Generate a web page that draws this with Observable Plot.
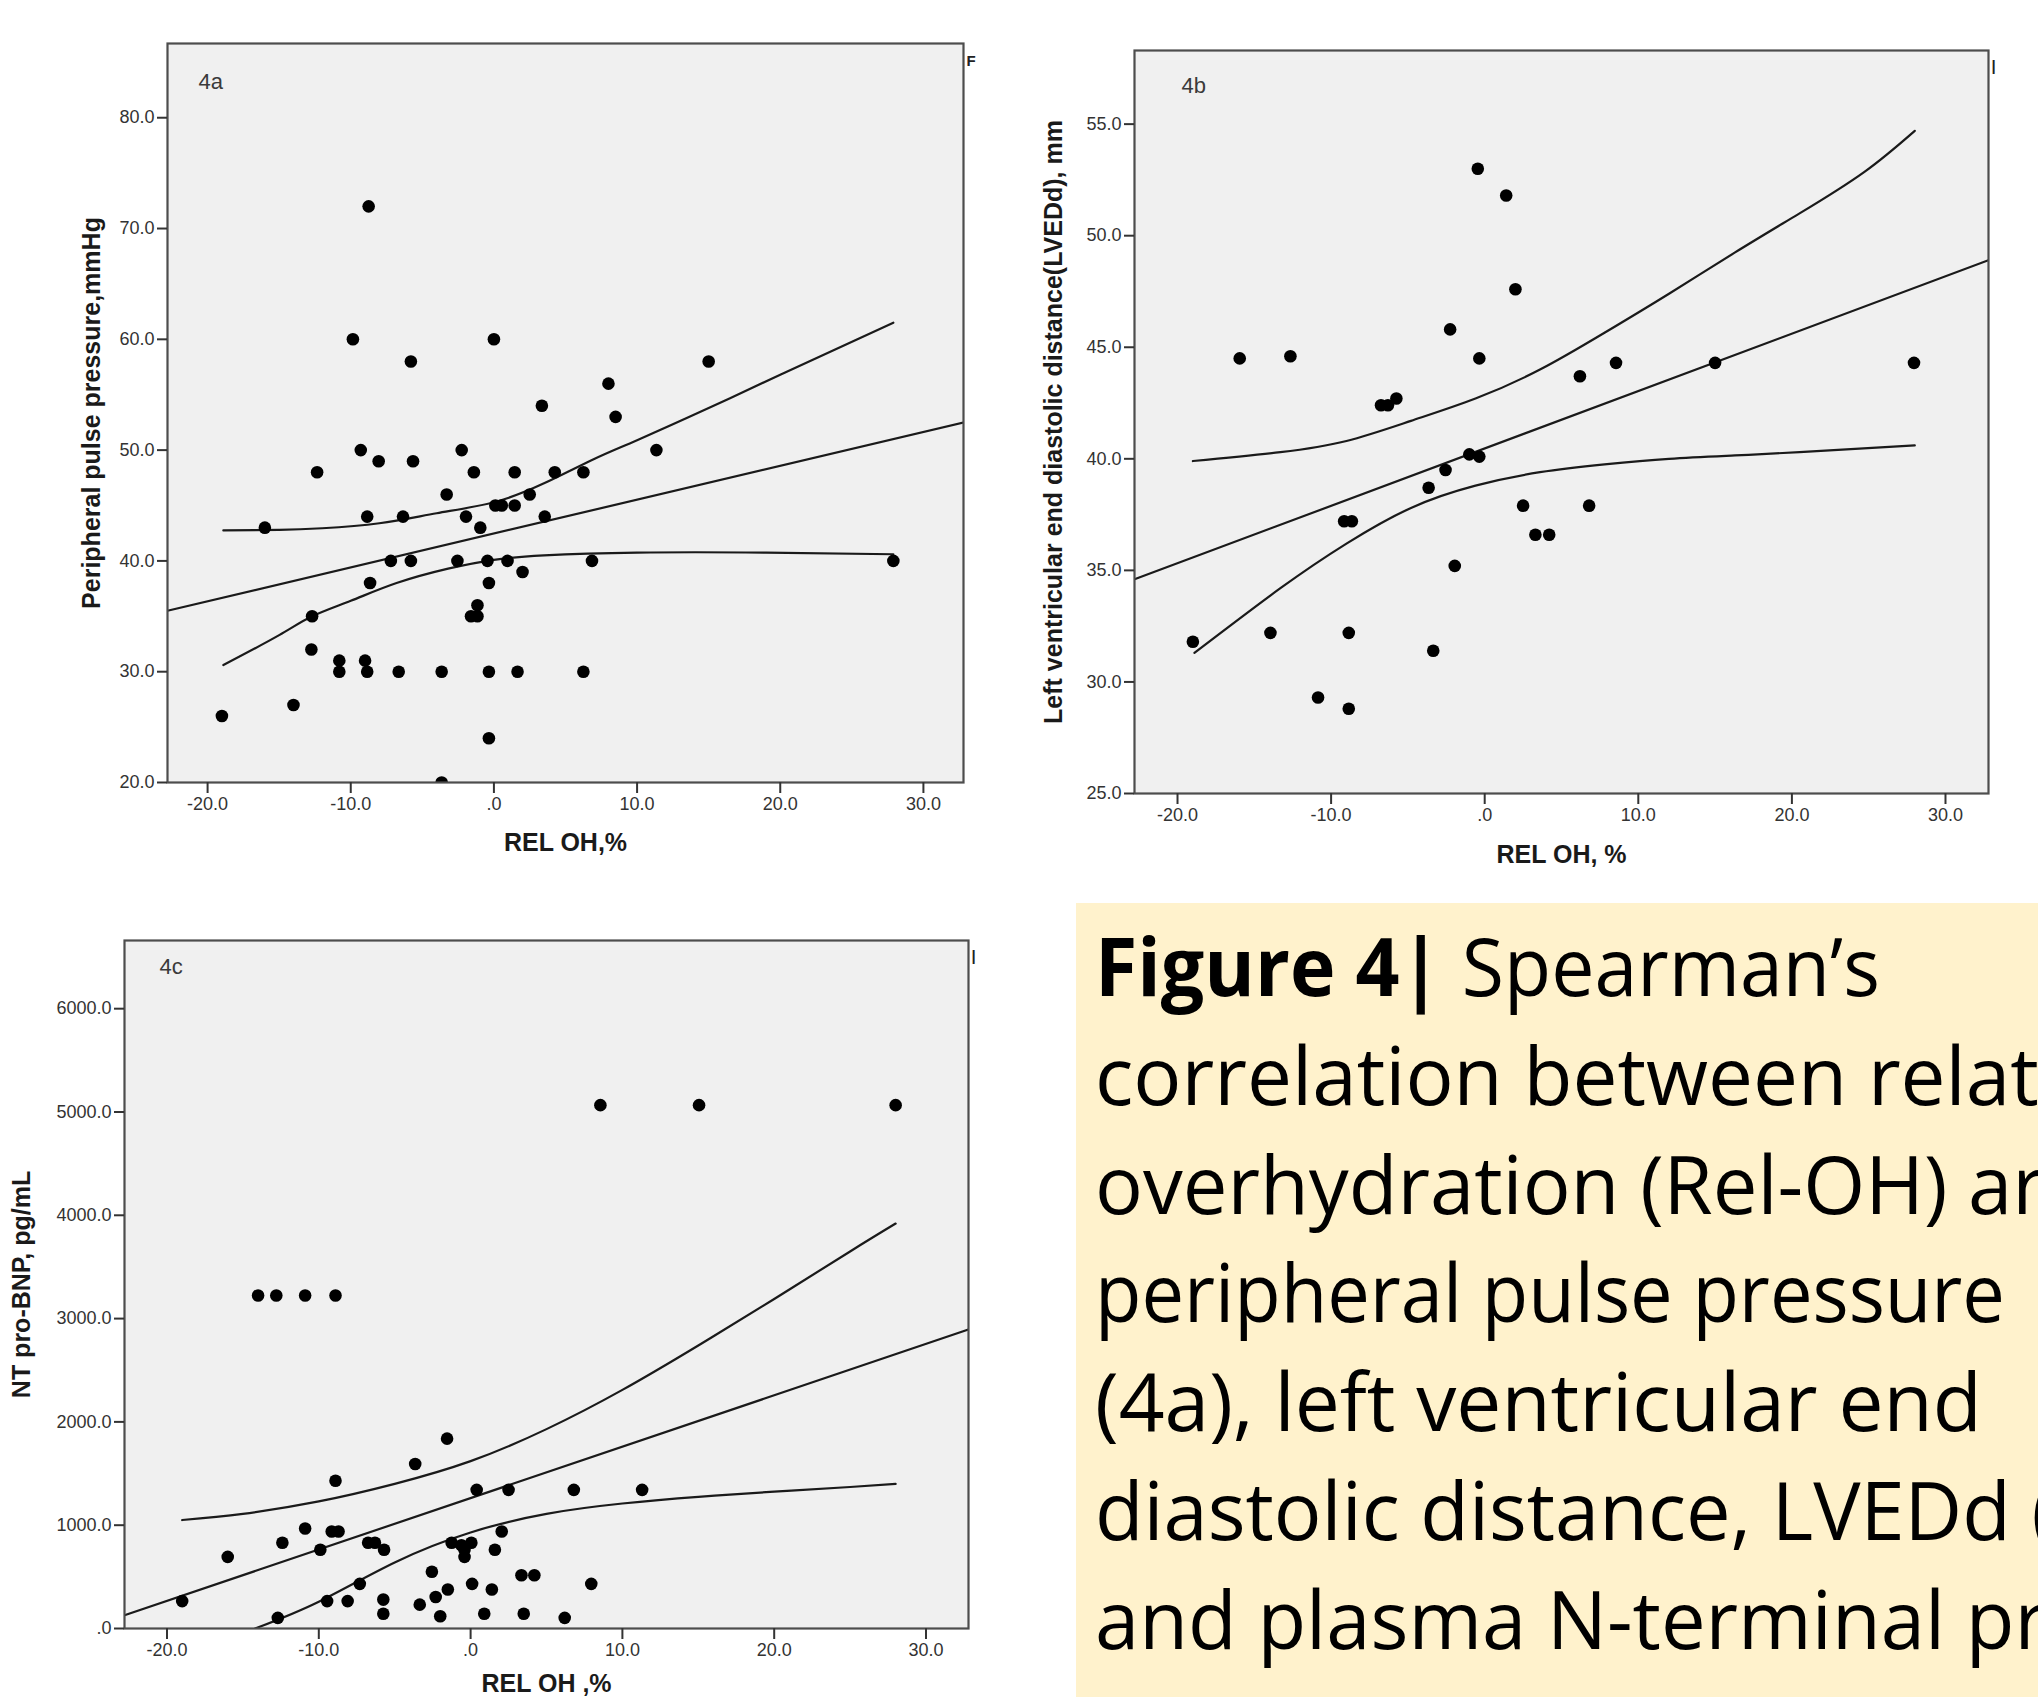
<!DOCTYPE html>
<html>
<head>
<meta charset="utf-8">
<script src="https://cdn.jsdelivr.net/npm/d3@7"></script>
<script src="https://cdn.jsdelivr.net/npm/@observablehq/plot@0.6"></script>
<style>
html, body { margin: 0; padding: 0; background: #ffffff; width: 2038px; height: 1697px; overflow: hidden; }
.panel { position: absolute; }
.panel svg { max-width: none; }
#cap { position: absolute; left: 1076px; top: 903px; width: 962px; height: 794px; overflow: hidden; }
</style>
</head>
<body>
<div id="pa" class="panel" style="left:0px;top:0px"></div>
<div id="pb" class="panel" style="left:1010px;top:0px"></div>
<div id="pc" class="panel" style="left:0px;top:880px"></div>
<div id="cap"></div>
<script>
// ---------- shared axis ----------
const xDomain = [-22.8, 32.8];
const xTicks = [-20, -10, 0, 10, 20, 30];

// ---------- 4a: REL OH vs peripheral pulse pressure ----------
const relOH_a = [-19, -16, -14, -12.7, -12.75, -12.35, -10.8, -10.8, -9.85, -9.3, -8.75, -8.85, -9.0, -8.85, -8.65, -8.05, -7.2, -6.65, -6.35, -5.8, -5.65, -5.8, -3.65, -3.65, -3.3, -2.55, -2.25, -1.95, -1.4, -1.6, -1.15, -1.15, -0.95, -0.45, -0.35, -0.35, -0.35, 0.0, 0.1, 0.55, 0.95, 1.45, 1.45, 1.65, 2.0, 2.5, 3.35, 3.55, 4.25, 6.25, 6.25, 6.85, 8.0, 8.5, 11.35, 15.0, 27.9];
const pulsePressure = [26, 43, 27, 35, 32, 48, 31, 30, 60, 50, 72, 44, 31, 30, 38, 49, 40, 30, 44, 58, 49, 40, 30, 20, 46, 40, 50, 44, 48, 35, 35, 36, 43, 40, 38, 30, 24, 60, 45, 45, 40, 48, 45, 30, 39, 46, 54, 44, 48, 48, 30, 40, 56, 53, 50, 58, 40];
const fitA_x = [-22.8, 32.8];
const fitA_y = [35.5, 52.5];
const upperA_x = [-18.9, -15, -12, -8, -4, 0, 3.5, 7, 10, 15, 20, 27.9];
const upperA_y = [42.75, 42.8, 42.95, 43.4, 44.3, 45.3, 47.0, 49.2, 50.9, 53.8, 56.8, 61.5];
const lowerA_x = [-18.9, -15, -12.7, -10, -6.8, -3.2, 0, 3.5, 10, 19, 27.9];
const lowerA_y = [30.6, 33.3, 35.0, 36.4, 38.0, 39.3, 40.1, 40.5, 40.75, 40.75, 40.6];
const yTicksA = [20, 30, 40, 50, 60, 70, 80];

// ---------- 4b: REL OH vs LVEDd ----------
const relOH_b = [-19.0, -15.95, -12.65, -13.95, -10.85, -9.15, -8.65, -8.85, -8.85, -6.75, -6.3, -5.75, -3.65, -3.35, -2.55, -2.25, -1.95, -1.0, -0.35, -0.45, -0.35, 1.4, 2.0, 2.5, 3.3, 4.2, 6.2, 6.8, 8.55, 15.0, 27.95];
const lvedd = [31.8, 44.5, 44.6, 32.2, 29.3, 37.2, 37.2, 32.2, 28.8, 42.4, 42.4, 42.7, 38.7, 31.4, 39.5, 45.8, 35.2, 40.2, 40.1, 53.0, 44.5, 51.8, 47.6, 37.9, 36.6, 36.6, 43.7, 37.9, 44.3, 44.3, 44.3];
const fitB_x = [-22.8, 32.8];
const fitB_y = [34.6, 48.9];
const upperB_x = [-19, -13.3, -9, -4.8, -0.6, 3.6, 7.8, 12, 16.3, 20.5, 24.7, 28];
const upperB_y = [39.9, 40.3, 40.8, 41.7, 42.7, 44.0, 45.65, 47.4, 49.25, 51.0, 52.85, 54.7];
const lowerB_x = [-18.9, -13.3, -9, -4.8, -0.6, 3.6, 7.8, 12, 16.3, 20.5, 28];
const lowerB_y = [31.3, 34.2, 36.2, 37.8, 38.8, 39.4, 39.75, 40.0, 40.15, 40.3, 40.6];
const yTicksB = [25, 30, 35, 40, 45, 50, 55];

// ---------- 4c: REL OH vs NT pro-BNP ----------
const relOH_c = [-19.0, -16.0, -14.0, -12.8, -10.9, -8.9, -12.7, -12.4, -10.9, -9.9, -9.45, -9.15, -8.7, -8.9, -8.1, -7.3, -6.75, -6.3, -5.7, -5.75, -5.75, -3.65, -3.35, -2.55, -2.3, -2.0, -1.55, -1.5, -1.25, -0.6, -0.4, -0.4, 0.05, 0.1, 0.4, 0.9, 1.4, 1.6, 2.05, 2.5, 3.35, 4.2, 3.5, 6.2, 6.8, 7.95, 8.55, 11.3, 15.05, 28.0];
const ntProBNP = [265, 693, 3224, 3224, 3224, 3224, 103, 830, 968, 762, 265, 939, 939, 1430, 265, 432, 830, 830, 762, 280, 143, 1592, 231, 550, 305, 118, 1838, 378, 830, 806, 693, 762, 830, 432, 1342, 143, 378, 762, 939, 1342, 516, 516, 143, 103, 1342, 432, 5066, 1342, 5066, 5066];
const fitC_x = [-22.8, 32.8];
const fitC_y = [128, 2894];
const upperC_x = [-19, -15, -10, -5, 0, 5, 10, 15, 20, 25, 28];
const upperC_y = [1050, 1110, 1230, 1400, 1620, 1930, 2310, 2740, 3190, 3650, 3920];
const lowerC_x = [-14.2, -10, -5, 0, 5, 10, 15, 20, 25, 28];
const lowerC_y = [0, 260, 640, 930, 1110, 1210, 1275, 1325, 1370, 1400];
const yTicksC = [0, 1000, 2000, 3000, 4000, 5000, 6000];

// ---------- caption (as visible in the figure, cut at the right edge) ----------
const captionBold = "Figure 4|";
const captionLines = [
  "Spearman\u2019s",
  "correlation between relat",
  "overhydration (Rel-OH) ar",
  "peripheral pulse pressure",
  "(4a), left ventricular end",
  "diastolic distance, LVEDd (",
  "and plasma N-terminal pr"
];
// horizontal extent of each caption line, measured on the figure
const captionWidths = [785, 944, 950, 910, 887, 960, 952];

// ---------- drawing ----------
const rows = (X, Y) => X.map((x, i) => ({x, y: Y[i]}));
const fmt = (d) => d === 0 ? ".0" : d.toFixed(1);
const FONT = "'Liberation Sans', Arial, Helvetica, sans-serif";
const INK = "#1a1a1a";

function panel(o) {
  return Plot.plot({
    width: o.width,
    height: o.height,
    marginLeft: o.ml, marginRight: o.mr, marginTop: o.mt, marginBottom: o.mb,
    style: {fontFamily: FONT, background: "transparent", overflow: "visible", maxWidth: "none"},
    x: {domain: xDomain},
    y: {domain: o.yDomain},
    marks: [
      Plot.frame({fill: "#f0f0f0", stroke: null}),
      Plot.line(rows(o.fitX, o.fitY), {x: "x", y: "y", stroke: INK, strokeWidth: 2.2, clip: true}),
      Plot.line(rows(o.upX, o.upY), {x: "x", y: "y", stroke: INK, strokeWidth: 2.2, curve: "natural", clip: true}),
      Plot.line(rows(o.loX, o.loY), {x: "x", y: "y", stroke: INK, strokeWidth: 2.2, curve: "natural", clip: true}),
      Plot.dot(rows(o.xs, o.ys), {x: "x", y: "y", r: 6.3, fill: "#000", stroke: "none", clip: true}),
      Plot.frame({stroke: "#4d4d4d", strokeWidth: 2.2}),
      Plot.axisY({ticks: o.yTicks, tickFormat: fmt, tickSize: 10, tickPadding: 3, fontSize: 18, label: null, color: "#333", strokeWidth: 2}),
      Plot.axisX({ticks: xTicks, tickFormat: fmt, tickSize: 11, tickPadding: 4, fontSize: 18, label: null, color: "#333", strokeWidth: 2}),
      Plot.text([o.yLabel], {frameAnchor: "left", rotate: -90, dx: o.yLabelDx, lineAnchor: "top", textAnchor: "middle", fontSize: 25, fontWeight: "bold", fill: INK}),
      Plot.text([o.xLabel], {frameAnchor: "bottom", dy: o.xLabelDy, lineAnchor: "bottom", textAnchor: "middle", fontSize: 25, fontWeight: "bold", fill: INK}),
      Plot.text([o.tag], {frameAnchor: "top-left", dx: o.tagDx, dy: o.tagDy, lineAnchor: "bottom", textAnchor: "start", fontSize: 22, fill: "#3a3a3a"}),
      Plot.text([o.corner], {frameAnchor: "top-right", dx: 3, dy: o.cornerDy, lineAnchor: "bottom", textAnchor: "start", fontSize: 15, fontWeight: "bold", fill: "#222"})
    ]
  });
}

document.getElementById("pa").append(panel({
  width: 1010, height: 880, ml: 167, mr: 47, mt: 43, mb: 98,
  yDomain: [20, 86.7], yTicks: yTicksA,
  xs: relOH_a, ys: pulsePressure,
  fitX: fitA_x, fitY: fitA_y, upX: upperA_x, upY: upperA_y, loX: lowerA_x, loY: lowerA_y,
  yLabel: "Peripheral pulse pressure,mmHg", yLabelDx: -85,
  xLabel: "REL OH,%", xLabelDy: 68,
  tag: "4a", tagDx: 31, tagDy: 45, corner: "F", cornerDy: 22
}));

document.getElementById("pb").append(panel({
  width: 1028, height: 880, ml: 124, mr: 50, mt: 50, mb: 87,
  yDomain: [25, 58.3], yTicks: yTicksB,
  xs: relOH_b, ys: lvedd,
  fitX: fitB_x, fitY: fitB_y, upX: upperB_x, upY: upperB_y, loX: lowerB_x, loY: lowerB_y,
  yLabel: "Left ventricular end diastolic distance(LVEDd), mm", yLabelDx: -90,
  xLabel: "REL OH, %", xLabelDy: 69,
  tag: "4b", tagDx: 47, tagDy: 42, corner: "|", cornerDy: 20
}));

document.getElementById("pc").append(panel({
  width: 1010, height: 817, ml: 124, mr: 42, mt: 60, mb: 69,
  yDomain: [0, 6660], yTicks: yTicksC,
  xs: relOH_c, ys: ntProBNP,
  fitX: fitC_x, fitY: fitC_y, upX: upperC_x, upY: upperC_y, loX: lowerC_x, loY: lowerC_y,
  yLabel: "NT pro-BNP, pg/mL", yLabelDx: -112,
  xLabel: "REL OH ,%", xLabelDy: 63,
  tag: "4c", tagDx: 35, tagDy: 33, corner: "|", cornerDy: 20
}));

// caption box
(function () {
  const W = 962, H = 794;
  const capFont = "'Open Sans', 'Noto Sans', sans-serif";
  const size = 80;
  const ctx = document.createElement("canvas").getContext("2d");
  const measure = (s, weight) => { ctx.font = `${weight} ${size}px ${capFont}`; return ctx.measureText(s).width; };
  const svg = d3.select("#cap").append("svg").attr("width", W).attr("height", H).style("display", "block");
  svg.append("rect").attr("width", W).attr("height", H).attr("fill", "#fff2cc");
  const g = svg.append("g").attr("font-family", capFont).attr("font-size", size).attr("fill", "#000");
  const x0 = 19, base = 93, step = 108.8;
  captionLines.forEach((line, i) => {
    const m = i === 0 ? measure(captionBold + " ", 700) + measure(line, 400) : measure(line, 400);
    const s = m > 0 ? captionWidths[i] / m : 0.95;
    const t = g.append("text").attr("transform", `translate(${x0},${base + step * i}) scale(${s},1)`);
    if (i === 0) t.append("tspan").attr("font-weight", 700).text(captionBold + " ");
    t.append("tspan").text(line);
  });
})();
</script>
</body>
</html>
